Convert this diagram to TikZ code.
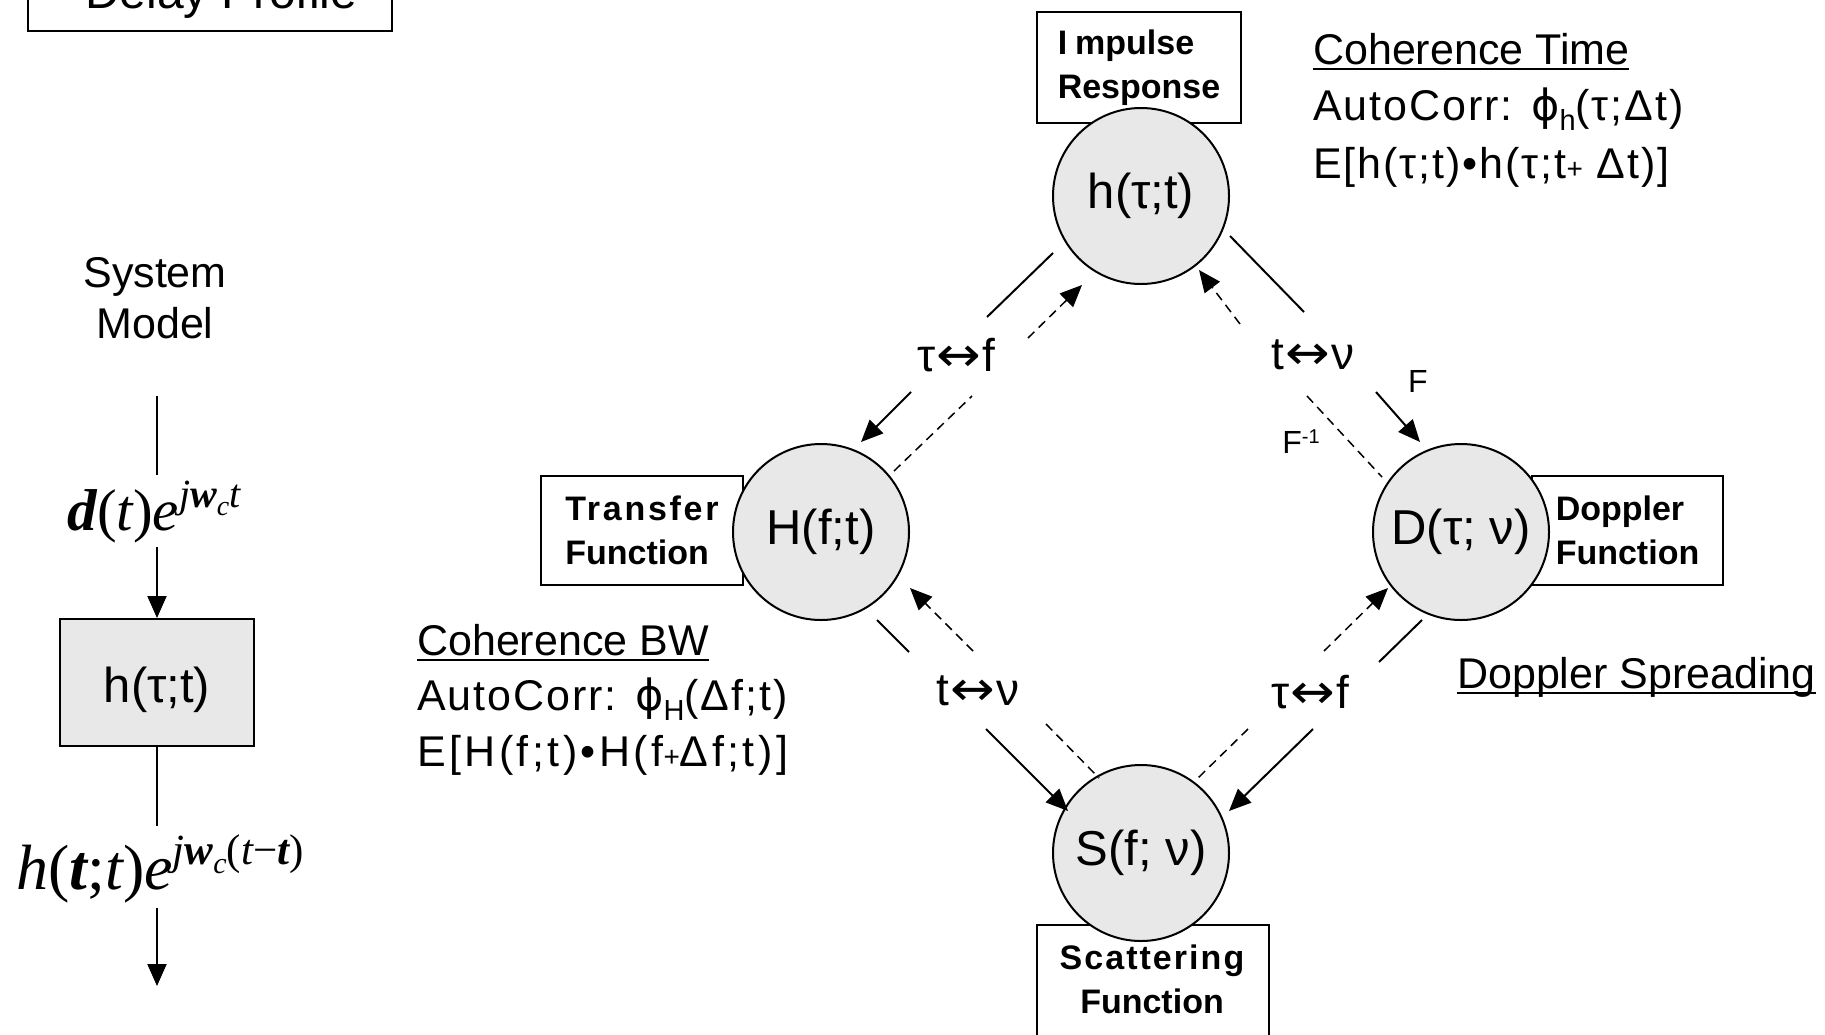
\documentclass[tikz,border=0pt]{standalone}
\usepackage{graphicx}
\usepackage{fontspec}
\setmainfont{Liberation Sans}
\newfontfamily\tms{Liberation Serif}
\newfontfamily\dvs{DejaVu Sans}
\newfontfamily\spca{Liberation Sans}[LetterSpace=8]
\newfontfamily\spcb{Liberation Sans}[LetterSpace=6]
\newfontfamily\lsa{Liberation Sans}[LetterSpace=4.5]
\newfontfamily\lsb{Liberation Sans}[LetterSpace=8]
\usetikzlibrary{arrows.meta,calc}
\definecolor{cfill}{RGB}{232,232,232}
\newcommand\fs[2]{\fontsize{#1}{#2}\selectfont}
\newcommand\myul[1]{\setbox0\hbox{#1}\rlap{\rule[-6pt]{\wd0}{2.5pt}}\box0}
\newcommand\sbx[1]{\raisebox{-10pt}{\fs{29}{29}#1}}
\newcommand\smp{{\fs{28}{28}+}}
\newcommand\lr{\kern1pt\scalebox{1.27}[1.15]{\dvs\fs{42}{46}↔}\kern1pt}
\newcommand\phii{{\dvs ϕ}}
\newcommand\ti[1]{{\tms\itshape #1}}
\newcommand\tbi[1]{{\tms\bfseries\itshape #1}}
\newcommand\tu[1]{{\tms #1}}
\tikzset{
  circ/.style={circle,draw=black,line width=2pt,fill=cfill,minimum size=176pt,inner sep=0pt,font=\fs{49}{58}},
  lbox/.style={draw=black,line width=2pt,fill=white,inner sep=0pt,font=\fs{34}{44}\bfseries},
  txt/.style={inner sep=0pt,anchor=base west,font=\fs{43}{57}},
  elab/.style={inner sep=0pt,font=\fs{46}{50}},
  flab/.style={inner sep=0pt,font=\fs{32}{36}},
  sline/.style={line width=2pt},
  sarrow/.style={line width=2pt,-{Triangle[length=22pt,width=19pt]}},
  dline/.style={line width=1.5pt,dash pattern=on 9pt off 6pt},
  darrow/.style={line width=1.5pt,dash pattern=on 9pt off 6pt,-{Triangle[length=22pt,width=19pt]}}
}
\begin{document}
\begin{tikzpicture}[x=1pt,y=-1pt]
\useasboundingbox (0,0) rectangle (1825,1034);
\fill[white] (0,0) rectangle (1825,1034);
\clip (0,0) rectangle (1825,1034);

% ---------- left column ----------
\node[lbox,minimum width=364,minimum height=80] (dp) at (210,-9) {};
\node[inner sep=0pt,anchor=base west,font=\fs{48}{50}] (dpt) at (85,8) {Delay Profile};
\node[inner sep=0pt,align=center,font=\fs{43}{51}] (sys) at (155,298) {System\\Model};

\coordinate (l0) at (157,396);
\coordinate (l1) at (157,475);
\node[inner sep=0pt] (dform) at (154,512) {\fs{59}{64}\tbi{d}\tu{(}\ti{t}\tu{)}\ti{e}\raisebox{23pt}{\fs{40}{44}\ti{j}\tbi{w}\raisebox{-8pt}{\fs{28}{30}\ti{c}}\ti{t}}};
\coordinate (l2) at (157,547);
\node[draw=black,fill=cfill,line width=2pt,minimum width=194,minimum height=127,inner sep=0pt,text height=49pt,text depth=10pt,font=\fs{49}{58}] (hb) at (157,682.5) {h(τ;t)};
\coordinate (l3) at (157,826);
\node[inner sep=0pt] (hform) at (160,869) {\fs{64}{70}\ti{h}\tu{(}\tbi{t}\tu{;}\ti{t}\tu{)}\ti{e}\raisebox{25pt}{\fs{43}{46}\ti{j}\tbi{w}\raisebox{-9pt}{\fs{30}{32}\ti{c}}\tu{(}\ti{t}\tu{−}\tbi{t}\tu{)}}};
\coordinate (l4) at (157,908);
\coordinate (l5) at (157,986);
\draw[sline] (l0) -- (l1);
\draw[sarrow] (l2) -- (hb.north);
\draw[sline] (hb.south) -- (l3);
\draw[sarrow] (l4) -- (l5);

% ---------- label boxes ----------
\node[lbox,minimum width=204,minimum height=111,align=left] (ir) at (1139,67.5) {I\kern8pt mpulse\\Response};
\node[lbox,minimum width=202,minimum height=109,align=left] (tf) at (642,530.5) {{\spca Transfer}\\Function};
\node[lbox,minimum width=191,minimum height=109,align=left] (df) at (1627.5,530.5) {Doppler\\Function};
\node[lbox,minimum width=232,minimum height=120] (sf) at (1153,985) {};
\node[inner sep=0pt,align=center,font=\fs{34}{44}\bfseries] (sft) at (1152,979.5) {{\spcb Scattering}\\Function};

% ---------- circles ----------
\node[circ] (ht) at (1141,196) {h(τ;t)};
\node[circ] (Hf) at (821,532) {H(f;t)};
\node[circ] (Dt) at (1461,532) {D(τ; ν)};
\node[circ] (Sf) at (1141,853) {S(f; ν)};

% ---------- edge segments ----------
% top - left
\coordinate (a1) at (1053,253); \coordinate (a2) at (987,317);
\coordinate (a3) at (911,392);  \coordinate (a4) at (861,442);
\coordinate (a5) at (894,471);  \coordinate (a6) at (972,396);
\coordinate (a7) at (1028,338); \coordinate (a8) at (1082,285);
\draw[sline] (a1) -- (a2);
\draw[sarrow] (a3) -- (a4);
\draw[dline] (a5) -- (a6);
\draw[darrow] (a7) -- (a8);
% top - right
\coordinate (b1) at (1230,236); \coordinate (b2) at (1304,312);
\coordinate (b3) at (1376,392); \coordinate (b4) at (1420,442);
\coordinate (b5) at (1240,324); \coordinate (b6) at (1199,270);
\coordinate (b7) at (1307,396); \coordinate (b8) at (1382,477);
\draw[sline] (b1) -- (b2);
\draw[sarrow] (b3) -- (b4);
\draw[darrow] (b5) -- (b6);
\draw[dline] (b7) -- (b8);
% left - bottom
\coordinate (c1) at (877,620);  \coordinate (c2) at (909,652);
\coordinate (c3) at (986,729);  \coordinate (c4) at (1068,811);
\coordinate (c5) at (973,651);  \coordinate (c6) at (910,588);
\coordinate (c7) at (1046,724); \coordinate (c8) at (1099,778);
\draw[sline] (c1) -- (c2);
\draw[sarrow] (c3) -- (c4);
\draw[darrow] (c5) -- (c6);
\draw[dline] (c7) -- (c8);
% right - bottom
\coordinate (d1) at (1422,620); \coordinate (d2) at (1379,662);
\coordinate (d3) at (1313,729); \coordinate (d4) at (1229,811);
\coordinate (d5) at (1324,651); \coordinate (d6) at (1388,588);
\coordinate (d7) at (1248,729); \coordinate (d8) at (1198,778);
\draw[sline] (d1) -- (d2);
\draw[sarrow] (d3) -- (d4);
\draw[darrow] (d5) -- (d6);
\draw[dline] (d7) -- (d8);

% ---------- edge labels ----------
\node[elab] (e1) at (956,355) {τ\lr f};
\node[elab] (e2) at (1313,355) {t\lr ν};
\node[elab] (e3) at (978,691) {t\lr ν};
\node[elab] (e4) at (1310,692) {τ\lr f};
\node[flab] (fF) at (1418,381) {F};
\node[flab] (fFi) at (1301,442) {F\raisebox{10pt}{\fs{20}{22}-1}};

% ---------- annotations ----------
\node[txt] (ct1) at (1313,64) {\myul{Coherence Time}};
\node[txt] (ct2) at (1313,120) {\lsa AutoCorr: \phii\sbx{h}(τ;Δt)};
\node[txt] (ct3) at (1313,178) {\lsa E[h(τ;t)•h(τ;t\smp\ Δt)]};
\node[txt] (bw1) at (417,655) {\myul{Coherence BW}};
\node[txt] (bw2) at (417,710) {\lsa AutoCorr: \phii\sbx{H}(Δf;t)};
\node[txt] (bw3) at (417,766) {\lsb E[H(f;t)•H(f\smp Δf;t)]};
\node[txt] (ds) at (1457,688) {\myul{Doppler Spreading}};
\end{tikzpicture}
\end{document}
